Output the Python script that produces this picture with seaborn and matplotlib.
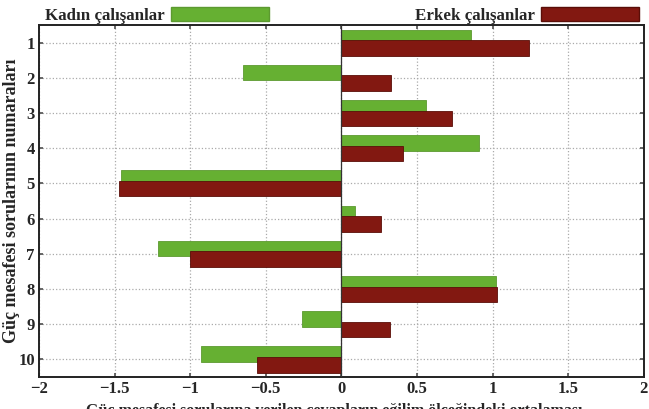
import numpy as np
import pandas as pd
import seaborn as sns
import matplotlib.pyplot as plt
import matplotlib.patches as mpatches

# Veriler
sorular = [1, 2, 3, 4, 5, 6, 7, 8, 9, 10]
kadin = [0.86, -0.65, 0.56, 0.91, -1.46, 0.09, -1.21, 1.02, -0.26, -0.93]
erkek = [1.24, 0.33, 0.73, 0.41, -1.47, 0.26, -1.00, 1.03, 0.32, -0.56]

renk_kadin = "#66b032"
renk_erkek = "#821811"

sns.set_theme(style="white")
plt.rcParams["font.family"] = ["Liberation Serif", "DejaVu Serif"]
plt.rcParams["font.weight"] = "bold"
plt.rcParams["axes.labelweight"] = "bold"

df = pd.DataFrame({"soru": sorular, "kadin": kadin, "erkek": erkek})
kayma = 0.15

fig = plt.figure(figsize=(6.49, 4.09), dpi=100)
ax = fig.add_axes([0.060, 0.078, 0.932, 0.861])

sns.barplot(x=df["kadin"], y=df["soru"] - kayma, orient="y", native_scale=True,
            width=0.44, color=renk_kadin, edgecolor="#5c9a30", linewidth=0.6,
            saturation=1, errorbar=None, ax=ax)
sns.barplot(x=df["erkek"], y=df["soru"] + kayma, orient="y", native_scale=True,
            width=0.44, color=renk_erkek, edgecolor="#5a0e08", linewidth=0.6,
            saturation=1, errorbar=None, ax=ax)

ax.axvline(0, color="#333333", lw=0.9, zorder=3)

ax.set_xlim(-2, 2)
ax.set_ylim(10.5, 0.5)
ax.set_xticks([-2, -1.5, -1, -0.5, 0, 0.5, 1, 1.5, 2])
ax.set_xticklabels(["\u22122", "\u22121.5", "\u22121", "\u22120.5", "0",
                    "0.5", "1", "1.5", "2"])
ax.set_yticks(sorular)
ax.set_yticklabels([str(s) for s in sorular])
ax.tick_params(axis="both", labelsize=12, direction="in", length=3,
               top=True, right=True, bottom=True, left=True, pad=3,
               color="#555555")
ax.grid(True, linestyle=":", color="#aaaaaa", linewidth=0.9)
ax.set_axisbelow(True)
for s in ax.spines.values():
    s.set_color("#222222")
    s.set_linewidth(1.4)

ax.set_xlabel("Güç mesafesi sorularına verilen cevapların eğilim ölçeğindeki ortalaması",
              fontsize=11.5)
ax.xaxis.set_label_coords(0.489, -0.074)
ax.set_ylabel("Güç mesafesi sorularının numaraları", fontsize=13)
ax.yaxis.set_label_coords(-0.032, 0.5)

handles = [mpatches.Patch(facecolor=renk_kadin, edgecolor="#5c9a30", label="Kadın çalışanlar"),
           mpatches.Patch(facecolor=renk_erkek, edgecolor="#5a0e08", label="Erkek çalışanlar")]
fig.legend(handles=handles, loc="upper center", bbox_to_anchor=(0.527, 1.02), ncol=2,
           frameon=False, markerfirst=False, handlelength=5.8, handleheight=0.9,
           columnspacing=8.6, prop={"size": 12.2, "weight": "bold"}, handletextpad=0.35)

fig.savefig("out.png", dpi=100)
